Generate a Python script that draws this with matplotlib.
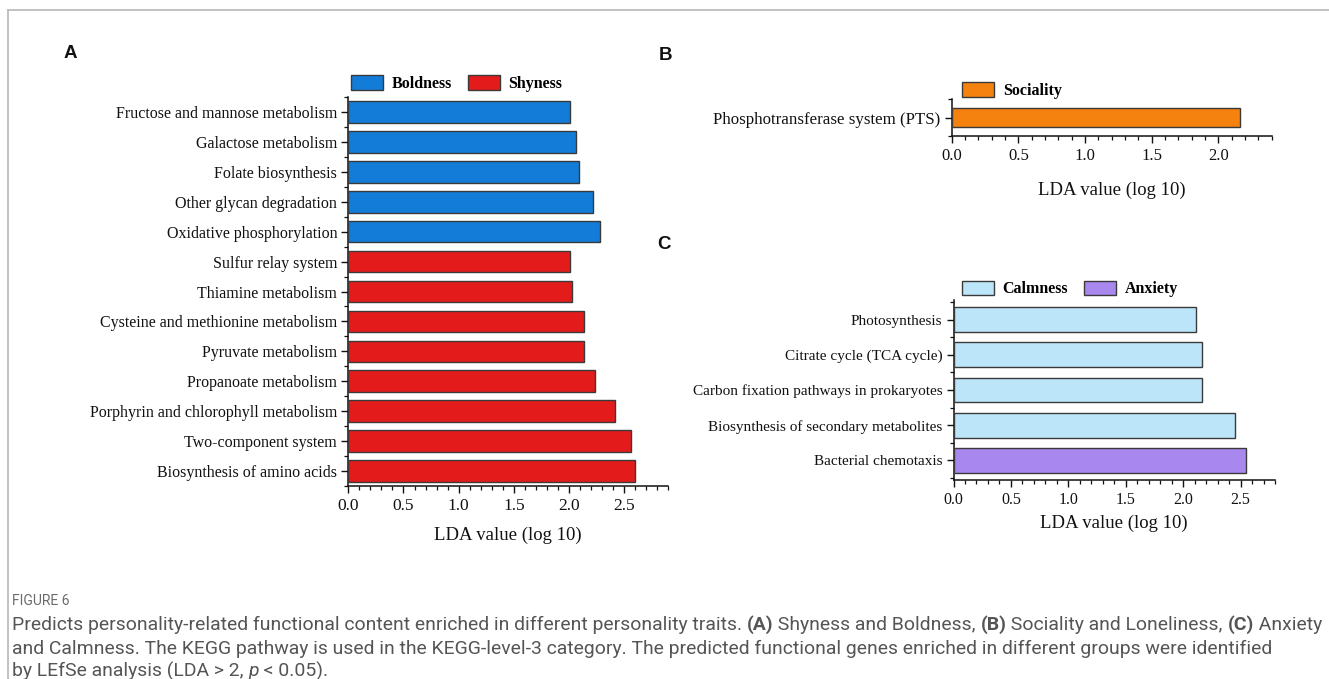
import matplotlib
matplotlib.use("Agg")
import matplotlib.pyplot as plt
import numpy as np
from matplotlib.patches import Patch
from matplotlib.ticker import MultipleLocator, FixedLocator
from matplotlib.lines import Line2D
from matplotlib import font_manager

# ---------------- data ----------------
a_categories = ["Fructose and mannose metabolism", "Galactose metabolism", "Folate biosynthesis",
                "Other glycan degradation", "Oxidative phosphorylation", "Sulfur relay system",
                "Thiamine metabolism", "Cysteine and methionine metabolism", "Pyruvate metabolism",
                "Propanoate metabolism", "Porphyrin and chlorophyll metabolism", "Two-component system",
                "Biosynthesis of amino acids"]
a_values = [2.01, 2.06, 2.09, 2.22, 2.28, 2.01, 2.03, 2.14, 2.14, 2.24, 2.42, 2.56, 2.60]
a_groups = ["Boldness"] * 5 + ["Shyness"] * 8

b_categories = ["Phosphotransferase system (PTS)"]
b_values = [2.16]
b_groups = ["Sociality"]

c_categories = ["Photosynthesis", "Citrate cycle (TCA cycle)", "Carbon fixation pathways in prokaryotes",
                "Biosynthesis of secondary metabolites", "Bacterial chemotaxis"]
c_values = [2.11, 2.16, 2.16, 2.455, 2.55]
c_groups = ["Calmness"] * 4 + ["Anxiety"]

group_colors = {"Boldness": "#137CD9", "Shyness": "#E31B1B", "Sociality": "#F5820F",
                "Calmness": "#BDE5FA", "Anxiety": "#A887EF"}

W, H = 1329, 679
fig = plt.figure(figsize=(W / 100, H / 100), dpi=100)
fig.patch.set_facecolor("white")

SERIF = ["Liberation Serif", "DejaVu Serif"]
SANS = ["Liberation Sans", "DejaVu Sans"]

installed = {f.name for f in font_manager.fontManager.ttflist}
if "Liberation Sans Narrow" in installed:
    CAP = ["Liberation Sans Narrow", "DejaVu Sans"]
else:
    CAP = ["Roboto", "DejaVu Sans"]


def px_rect(l, t, r, b):
    return [l / W, 1 - b / H, (r - l) / W, (b - t) / H]


def draw_panel(rect, cats, vals, groups, xlim, barh_frac, ypad, legend_groups, legend_anchor,
               labelpad, ysize, xsize):
    ax = fig.add_axes(rect)
    n = len(cats)
    pos = np.arange(n)
    cols = [group_colors[g] for g in groups]
    ax.barh(pos, vals, height=barh_frac, color=cols, edgecolor="#3a3a3a", linewidth=1.0, zorder=3)
    ax.set_ylim(n - 1 + ypad, -ypad)
    ax.set_xlim(*xlim)
    ax.set_yticks(pos)
    ax.set_yticklabels(cats, fontfamily=SERIF, fontsize=ysize, color="#111")
    ax.yaxis.set_minor_locator(FixedLocator(np.arange(-0.5, n, 1.0)))
    ax.xaxis.set_major_locator(MultipleLocator(0.5))
    ax.xaxis.set_minor_locator(MultipleLocator(0.1))
    for lab in ax.get_xticklabels():
        lab.set_fontfamily(SERIF)
    ax.tick_params(axis="x", which="major", labelsize=xsize, length=5, width=1.0, pad=4, colors="#111")
    ax.tick_params(axis="x", which="minor", length=3, width=0.9, colors="#111")
    ax.tick_params(axis="y", which="major", length=5, width=1.0, pad=3, colors="#111")
    ax.tick_params(axis="y", which="minor", length=3, width=0.9, colors="#111")
    for s in ["top", "right"]:
        ax.spines[s].set_visible(False)
    for s in ["left", "bottom"]:
        ax.spines[s].set_linewidth(1.1)
        ax.spines[s].set_color("#111")
    ax.set_xlabel("LDA value (log 10)", fontfamily=SERIF, fontsize=13.5, labelpad=labelpad, color="#111")
    handles = [Patch(facecolor=group_colors[g], edgecolor="#3a3a3a", linewidth=1.0, label=g)
               for g in legend_groups]
    ax.legend(handles=handles, ncol=len(handles), loc="center left",
              bbox_to_anchor=(legend_anchor[0] / W, 1 - legend_anchor[1] / H),
              bbox_transform=fig.transFigure, frameon=False,
              prop={"family": SERIF, "weight": "bold", "size": 11.5},
              handlelength=2.0, handleheight=1.05, handletextpad=0.55,
              columnspacing=1.0, borderpad=0, borderaxespad=0)
    return ax


axA = draw_panel(px_rect(348.3, 97, 668.3, 486), a_categories, a_values, a_groups,
                 (0, 2.9), 0.72, 0.5, ["Boldness", "Shyness"], (351, 83.5), 8.5, 11.5, 12.5)
axB = draw_panel(px_rect(951.7, 99.3, 1271.7, 136), b_categories, b_values, b_groups,
                 (0, 2.4), 0.53, 0.5, ["Sociality"], (962, 90.5), 12.5, 12.2, 12.0)
axB.set_ylim(0.5, -0.5)
axC = draw_panel(px_rect(953.5, 300, 1275, 480), c_categories, c_values, c_groups,
                 (0, 2.8), 0.71, 0.56, ["Calmness", "Anxiety"], (962, 289), 4.5, 11.0, 11.5)

# panel letters
for letter, x, y in [("A", 70, 53), ("B", 665, 55), ("C", 664, 244)]:
    fig.text(x / W, 1 - y / H, letter, fontfamily=SANS, fontweight="bold", fontsize=13.5,
             ha="center", va="center", color="#111")

# frame lines
fig.add_artist(Line2D([8 / W, 1], [1 - 10 / H, 1 - 10 / H], color="#bdbdbd", lw=1.3))
fig.add_artist(Line2D([8 / W, 8 / W], [0, 1 - 10 / H], color="#bdbdbd", lw=1.3))

# caption
fig.text(12 / W, 1 - 601 / H, "FIGURE 6", fontfamily=CAP, fontsize=10, color="#6b6b6b",
         ha="left", va="center")

caption_lines = [
    [("Predicts personality-related functional content enriched in different personality traits. ", "normal", "normal"),
     ("(A)", "bold", "normal"), (" Shyness and Boldness, ", "normal", "normal"),
     ("(B)", "bold", "normal"), (" Sociality and Loneliness, ", "normal", "normal"),
     ("(C)", "bold", "normal"), (" Anxiety", "normal", "normal")],
    [("and Calmness. The KEGG pathway is used in the KEGG-level-3 category. The predicted functional genes enriched in different groups were identified", "normal", "normal")],
    [("by LEfSe analysis (LDA > 2, ", "normal", "normal"), ("p", "normal", "italic"),
     (" < 0.05).", "normal", "normal")],
]
line_y = [625, 649, 671]

fig.canvas.draw()
renderer = fig.canvas.get_renderer()
cap_size = 12.0
cap_color = "#555555"
tmp_widths = 0
tmp_objs = []
for seg, wt, st in caption_lines[0]:
    t = fig.text(0, 0, seg, fontfamily=CAP, fontsize=cap_size, fontweight=wt, fontstyle=st)
    tmp_widths += t.get_window_extent(renderer).width
    tmp_objs.append(t)
for t in tmp_objs:
    t.remove()
cap_size = min(cap_size * (1306 / tmp_widths), 15.0)

for segs, y in zip(caption_lines, line_y):
    x = 12.0
    for seg, wt, st in segs:
        t = fig.text(x / W, 1 - y / H, seg, fontfamily=CAP, fontsize=cap_size, fontweight=wt,
                     fontstyle=st, color=cap_color, ha="left", va="center")
        x += t.get_window_extent(renderer).width

fig.savefig("out.png", dpi=100, facecolor="white")
